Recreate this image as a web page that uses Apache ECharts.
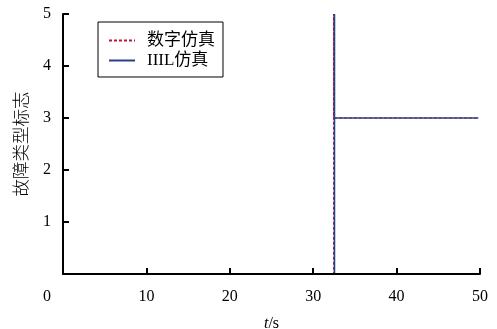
<!DOCTYPE html>
<html><head><meta charset="utf-8">
<script src="https://cdn.jsdelivr.net/npm/echarts@6/dist/echarts.min.js"></script>
<style>html,body{margin:0;padding:0;background:#fff}#c{width:497px;height:329px}</style>
</head><body><div id="c"></div>
<script>
var seriesNames = ['数字仿真', 'IIIL仿真'];
var tDigital = [0, 32.45, 32.45, 32.45, 49.8];
var yDigital = [0, 0, 5, 3, 3];
var tHil = [0, 32.55, 32.55, 32.55, 49.8];
var yHil = [0, 0, 5, 3, 3];
var xTicks = [0, 10, 20, 30, 40, 50];
var yTicks = [0, 1, 2, 3, 4, 5];

function pairs(t, y) { return t.map(function (v, i) { return [v, y[i]]; }); }
var serif = '"Liberation Serif", "Noto Sans CJK SC", serif';
var chart = echarts.init(document.getElementById('c'));
chart.setOption({
  animation: false,
  grid: { left: 63, right: 17, top: 14, bottom: 55, containLabel: false, outerBoundsMode: 'none' },
  legend: {
    orient: 'vertical', left: 98, top: 22,
    padding: [10, 8, 8, 10], itemGap: 3, itemWidth: 26, itemHeight: 10,
    borderColor: '#000', borderWidth: 1,
    itemStyle: { opacity: 0 },
    textStyle: { fontFamily: serif, fontSize: 17, color: '#000', padding: [0, 0, 0, 7] },
    data: seriesNames
  },
  xAxis: {
    type: 'value', min: 0, max: 50, interval: 10, z: 10,
    name: '{i|t}/s', nameLocation: 'middle', nameGap: 42,
    nameTextStyle: { fontFamily: serif, fontSize: 16, color: '#000',
      rich: { i: { fontStyle: 'italic', fontFamily: serif, fontSize: 16, color: '#000' } } },
    axisLine: { lineStyle: { color: '#000', width: 2 } },
    axisTick: { inside: true, length: 6, lineStyle: { color: '#000', width: 2 } },
    axisLabel: { margin: 15, fontFamily: serif, fontSize: 16, color: '#000',
      formatter: function (v) { return v === 0 ? '{z|0}' : String(v); },
      rich: { z: { padding: [0, 32, 0, 0], fontFamily: serif, fontSize: 16, color: '#000' } } },
    splitLine: { show: false }
  },
  yAxis: {
    type: 'value', min: 0, max: 5, interval: 1, z: 10,
    name: '故障类型标志', nameLocation: 'middle', nameGap: 34, nameRotate: 90,
    nameTextStyle: { fontFamily: '"Noto Sans CJK SC", sans-serif', fontSize: 17.5, fontWeight: 300, color: '#000' },
    axisLine: { lineStyle: { color: '#000', width: 2 } },
    axisTick: { inside: true, length: 6, lineStyle: { color: '#000', width: 2 } },
    axisLabel: { margin: 12, fontFamily: serif, fontSize: 16, color: '#000',
      formatter: function (v) { return v === 0 ? '' : String(v); } },
    splitLine: { show: false }
  },
  series: [
    { name: seriesNames[0], type: 'line', data: pairs(tDigital, yDigital), showSymbol: false, symbol: 'none',
      lineStyle: { color: '#c0143c', width: 1.2, type: [3, 2] }, itemStyle: { color: '#c0143c' }, z: 2 },
    { name: seriesNames[1], type: 'line', data: pairs(tHil, yHil), showSymbol: false, symbol: 'none',
      lineStyle: { color: '#2b3f85', width: 1.6 }, itemStyle: { color: '#2b3f85' }, z: 3 }
  ]
});
</script></body></html>
